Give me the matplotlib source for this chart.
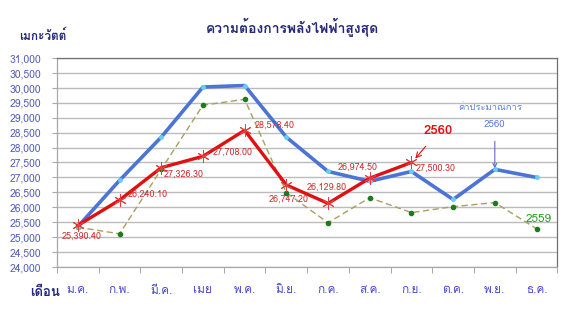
import matplotlib
matplotlib.use("Agg")
import matplotlib.pyplot as plt
from matplotlib import font_manager as fm
from matplotlib.ft2font import FT2Font
import numpy as np

# --- data ---------------------------------------------------------------------
months = ["ม.ค.", "ก.พ.", "มี.ค.", "เมย", "พ.ค.", "มิ.ย.",
          "ก.ค.", "ส.ค.", "ก.ย.", "ต.ค.", "พ.ย.", "ธ.ค."]
forecast_2560 = [25350, 26900, 28350, 30030, 30080, 28350,
                 27200, 26870, 27200, 26260, 27270, 27000]
actual_2560 = [25390.40, 26240.10, 27326.30, 27708.00, 28578.40,
               26747.20, 26129.80, 26974.50, 27500.30]
actual_2559 = [25330, 25110, 27270, 29420, 29619, 26490,
               25480, 26320, 25820, 26020, 26155, 25280]


def thai_font():
    names = ["Noto Sans Thai", "Tahoma", "Loma", "Garuda", "Sarabun"]
    found = None
    for f in fm.fontManager.ttflist:
        try:
            if 0x0E01 in FT2Font(f.fname).get_charmap():
                if f.name in names:
                    return f.name
                found = found or f.name
        except Exception:
            pass
    return found


TH = thai_font()
fams = [TH, "DejaVu Sans"] if TH else ["DejaVu Sans"]
plt.rcParams["font.family"] = fams

NAVY, TICKBLUE, MONTHBLUE = "#262a78", "#5560b8", "#4a4ac8"
BLUE, RED, OLIVE, GREEN = "#4b74d6", "#e01010", "#a8a060", "#1e7a1e"

fig = plt.figure(figsize=(5.74, 3.14), dpi=100)
ax = fig.add_axes([0.0993, 0.150, 0.8717, 0.665])
x = np.arange(len(months))

ax.plot(x, actual_2559, ls=(0, (4.5, 2.5)), color=OLIVE, lw=1.0, marker="o",
        ms=3, mfc=GREEN, mec=GREEN, zorder=3)
ax.plot(x, forecast_2560, color=BLUE, lw=2.6, marker="o", ms=2.5,
        mfc="#66d0f0", mec="#66d0f0", zorder=4)
ax.plot(x[:len(actual_2560)], actual_2560, color=RED, lw=2.4, marker=(6, 2, 0),
        ms=9, mew=0.7, mec="#e04040", zorder=5)

# data labels for the 2560 actuals (offsets in points)
offs = [(3, -8, "center"), (6, 4, "left"), (1.5, -5, "left"), (7, 3, "left"),
        (7, 4, "left"), (1.5, -10.5, "center"), (-1, 12, "center"),
        (-8.5, 8, "center"), (3, -4, "left")]
for xi, (v, (dx, dy, ha)) in enumerate(zip(actual_2560, offs)):
    ax.annotate(f"{v:,.2f}", (xi, v), xytext=(dx, dy), textcoords="offset points",
                ha=ha, va="center", fontsize=6.5, color="#d03030", zorder=6)

ax.annotate("2560", xy=(8.05, 27560), xytext=(8.65, 28550), ha="center", va="center",
            fontsize=9.5, fontweight="bold", color=RED,
            arrowprops=dict(arrowstyle="->", color=RED, lw=0.8, shrinkA=6, shrinkB=2))
ax.text(9.9, 29350, "ค่าประมาณการ", ha="center", va="center", fontsize=6.8, color="#5b80d8")
ax.annotate("2560", xy=(10.0, 27300), xytext=(10.0, 28780), ha="center", va="center",
            fontsize=7, color="#5b80d8",
            arrowprops=dict(arrowstyle="->", color="#6868c0", lw=0.8, shrinkA=7, shrinkB=0))
ax.text(11.05, 25590, "2559", ha="center", va="center", fontsize=8.5, color="#2a9a2a")

# axes styling
ax.set_xlim(-0.5, 11.5)
ax.set_ylim(24000, 31000)
ax.set_yticks(np.arange(24000, 31001, 500))
ax.set_yticklabels([f"{v:,}" for v in range(24000, 31001, 500)])
ax.set_xticks(x)
ax.set_xticklabels(months)
ax.set_xticks(np.arange(-0.5, 12, 1), minor=True)
ax.tick_params(axis="x", which="major", length=0, pad=13, labelsize=8.5, labelcolor=MONTHBLUE)
ax.tick_params(axis="x", which="minor", length=4, color="#999999", direction="out")
ax.tick_params(axis="y", length=3.5, color="#aaaaaa", pad=8, labelsize=7.5, labelcolor=TICKBLUE)
ax.grid(axis="y", color="#bcbcbc", lw=1.0)
ax.set_axisbelow(True)
for k, s in ax.spines.items():
    s.set_color("#707070" if k in ("top", "right") else "#a8a8a8")
    s.set_linewidth(0.9)

fig.text(0.509, 0.911, "ความต้องการพลังไฟฟ้าสูงสุด", ha="center", va="center",
         fontsize=10, fontweight="bold", color=NAVY)
fig.text(0.075, 0.889, "เมกะวัตต์", ha="center", va="center",
         fontsize=8.5, fontweight="bold", color=NAVY)
fig.text(0.078, 0.068, "เดือน", ha="center", va="center",
         fontsize=9.5, fontweight="bold", color=NAVY)

fig.savefig("out.png", dpi=100)
